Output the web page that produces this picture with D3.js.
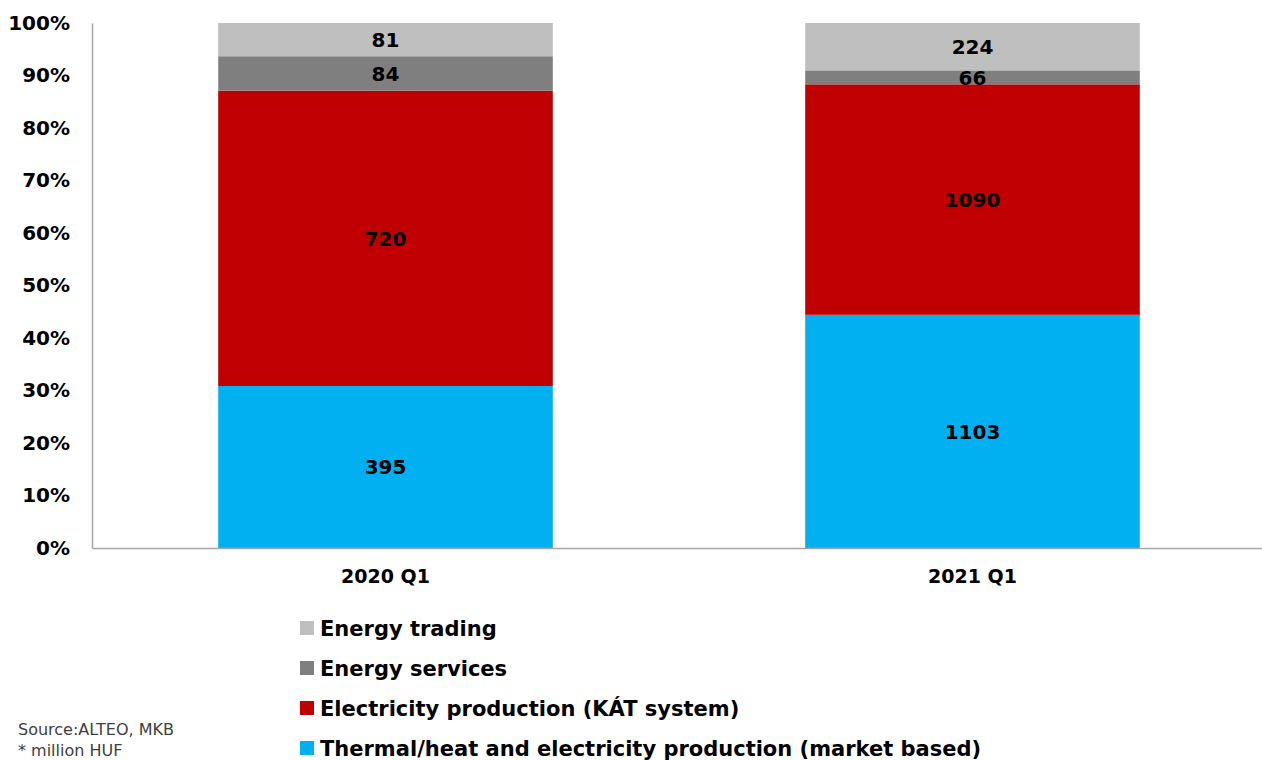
<!DOCTYPE html>
<html>
<head>
<meta charset="utf-8">
<script src="https://cdn.jsdelivr.net/npm/d3@7"></script>
<style>
  body { margin: 0; background: #fff; }
  text { font-family: "DejaVu Sans", "Lato", sans-serif; }
</style>
</head>
<body>
<div id="chart"></div>
<script>
// Data
const categories = ["2020 Q1", "2021 Q1"];
const seriesNames = [
  "Thermal/heat and electricity production (market based)",
  "Electricity production (KÁT system)",
  "Energy services",
  "Energy trading"
];
const marketBased = [395, 1103];
const katSystem = [720, 1090];
const energyServices = [84, 66];
const energyTrading = [81, 224];
const yTicks = [0, 0.1, 0.2, 0.3, 0.4, 0.5, 0.6, 0.7, 0.8, 0.9, 1];

const colours = ["#00b0f0", "#c00000", "#7f7f7f", "#bfbfbf"];

// Dimensions
const dims = {width: 1262, height: 760};
const plot = {left: 92, right: 1266, top: 23, bottom: 548};

const svg = d3.select('#chart')
  .append('svg')
  .attr('width', dims.width)
  .attr('height', dims.height);

// Build table for the stack
const seriesData = [marketBased, katSystem, energyServices, energyTrading];
const table = categories.map((c, i) => {
  const row = {cat: c};
  seriesNames.forEach((s, j) => row[s] = seriesData[j][i]);
  return row;
});

const stack = d3.stack()
  .keys(seriesNames)
  .offset(d3.stackOffsetExpand);
const layers = stack(table);

// Scales
const x = d3.scaleBand()
  .domain(categories)
  .range([plot.left, plot.right])
  .paddingInner(0.43)
  .paddingOuter(0.215);

const y = d3.scaleLinear()
  .domain([0, 1])
  .range([plot.bottom, plot.top]);

// Bars
const layerG = svg.append('g').attr('class', 'bars')
  .selectAll('g')
  .data(layers)
  .enter().append('g')
    .attr('fill', (d, i) => colours[i]);

layerG.selectAll('rect')
  .data(d => d)
  .enter().append('rect')
    .attr('x', d => x(d.data.cat))
    .attr('y', d => y(d[1]))
    .attr('width', x.bandwidth())
    .attr('height', d => y(d[0]) - y(d[1]));

// Value labels
layerG.selectAll('text')
  .data((d) => d.map(p => ({p: p, key: d.key})))
  .enter().append('text')
    .attr('x', d => x(d.p.data.cat) + x.bandwidth() / 2)
    .attr('y', d => (y(d.p[0]) + y(d.p[1])) / 2)
    .attr('dy', '0.36em')
    .attr('text-anchor', 'middle')
    .style('font-size', '20px')
    .style('font-weight', 'bold')
    .attr('fill', '#000')
    .text(d => d.p.data[d.key]);

// Y axis
const yAxis = svg.append('g')
  .attr('transform', `translate(${plot.left},0)`)
  .call(d3.axisLeft(y).tickValues(yTicks).tickFormat(d3.format('.0%')).tickSize(0).tickPadding(22));
yAxis.select('.domain').attr('stroke', '#a6a6a6').attr('stroke-width', 1.5);
yAxis.selectAll('text')
  .style('font-size', '20px')
  .style('font-weight', 'bold')
  .attr('fill', '#000');

// X axis
const xAxis = svg.append('g')
  .attr('transform', `translate(0,${plot.bottom})`)
  .call(d3.axisBottom(x).tickSize(0).tickPadding(22));
xAxis.select('.domain').attr('stroke', '#a6a6a6').attr('stroke-width', 1.5);
xAxis.selectAll('text')
  .style('font-size', '19px')
  .style('font-weight', 'bold')
  .attr('fill', '#000');

// Legend (top to bottom: reversed series order)
const legendItems = seriesNames.map((s, i) => ({name: s, colour: colours[i]})).reverse();
const legend = svg.append('g')
  .attr('class', 'legend')
  .attr('transform', 'translate(300, 628)');

const item = legend.selectAll('g')
  .data(legendItems)
  .enter().append('g')
    .attr('transform', (d, i) => `translate(0, ${i * 40})`);

item.append('rect')
  .attr('x', 0)
  .attr('y', -7)
  .attr('width', 14)
  .attr('height', 14)
  .attr('fill', d => d.colour);

item.append('text')
  .attr('x', 20)
  .attr('dy', '0.36em')
  .style('font-size', '21px')
  .style('font-weight', 'bold')
  .attr('fill', '#000')
  .text(d => d.name);

// Source note
const note = svg.append('g').attr('class', 'note');
note.append('text')
  .attr('x', 18).attr('y', 735)
  .style('font-size', '16px')
  .attr('fill', '#404040')
  .text('Source:ALTEO, MKB');
note.append('text')
  .attr('x', 18).attr('y', 756)
  .style('font-size', '16px')
  .attr('fill', '#404040')
  .text('* million HUF');
</script>
</body>
</html>
